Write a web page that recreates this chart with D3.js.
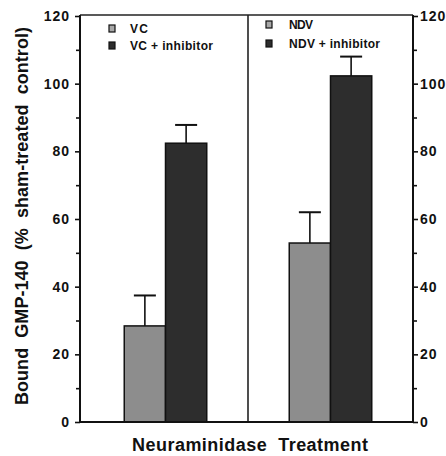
<!DOCTYPE html>
<html>
<head>
<meta charset="utf-8">
<script src="https://cdn.jsdelivr.net/npm/d3@7/dist/d3.min.js"></script>
<style>
  html, body { margin: 0; padding: 0; background: #fff; }
  svg { display: block; }
  text { font-family: "Liberation Sans", Arial, Helvetica, sans-serif; font-weight: bold; fill: #111; white-space: pre; }
</style>
</head>
<body>
<svg id="chart" width="446" height="456"></svg>
<script>
// ---- data ----
const groups = ["VC", "NDV"];
const treatments = ["control", "inhibitor"];
const legendLabels = [["VC", "VC + inhibitor"], ["NDV", "NDV + inhibitor"]];
const means = [[28.4, 82.4], [52.9, 102.3]];
const errors = [[9.0, 5.4], [9.1, 5.7]];
const majorTicks = [0, 20, 40, 60, 80, 100, 120];
const minorTicks = [10, 30, 50, 70, 90, 110];
const yTitle = "Bound  GMP-140  (%  sham-treated  control)";
const xTitle = "Neuraminidase  Treatment";

const colors = { control: "#8d8d8d", inhibitor: "#2d2d2d" };

const svg = d3.select("#chart");
const leftX = 80, rightX = 413, topY = 16, bottomY = 422;

const y = d3.scaleLinear().domain([0, 120]).range([bottomY, topY]);
const x = d3.scaleBand().domain(groups).range([83, rightX]).paddingInner(0).paddingOuter(0);
const xi = d3.scaleBand().domain(treatments).range([0, x.bandwidth()]).paddingInner(0).paddingOuter(1.0);

// bars
groups.forEach((g, gi) => {
  const gEl = svg.append("g").attr("transform", `translate(${x(g)},0)`);
  treatments.forEach((t, ti) => {
    const v = means[gi][ti], e = errors[gi][ti];
    const cx = xi(t) + xi.bandwidth() / 2;
    gEl.append("line").attr("x1", cx).attr("x2", cx).attr("y1", y(v)).attr("y2", y(v + e))
      .attr("stroke", "#111").attr("stroke-width", 1.6);
    gEl.append("line").attr("x1", cx - 11).attr("x2", cx + 11).attr("y1", y(v + e)).attr("y2", y(v + e))
      .attr("stroke", "#111").attr("stroke-width", 2);
    gEl.append("rect").attr("x", xi(t)).attr("width", xi.bandwidth())
      .attr("y", y(v)).attr("height", y(0) - y(v))
      .attr("fill", colors[t]).attr("stroke", "#111").attr("stroke-width", 1.5);
  });
});

// frame: top, divider, bottom
svg.append("line").attr("x1", leftX).attr("x2", rightX).attr("y1", topY - 1).attr("y2", topY - 1)
  .attr("stroke", "#222").attr("stroke-width", 1.6);
svg.append("line").attr("x1", x("NDV")).attr("x2", x("NDV")).attr("y1", topY - 1).attr("y2", bottomY)
  .attr("stroke", "#222").attr("stroke-width", 1.6);
svg.append("line").attr("x1", leftX).attr("x2", rightX).attr("y1", bottomY).attr("y2", bottomY)
  .attr("stroke", "#111").attr("stroke-width", 2);

// axes
function styleAxis(sel) {
  sel.select(".domain").remove();
  sel.selectAll("line").attr("stroke", "#111").attr("stroke-width", 1.6);
  sel.selectAll("text").style("font-size", "14px").style("font-weight", "bold")
    .style("letter-spacing", "1px").attr("fill", "#111")
    .style("font-family", '"Liberation Sans", Arial, sans-serif');
}
const leftAxis = svg.append("g").attr("transform", `translate(${leftX},0)`)
  .call(d3.axisLeft(y).tickValues(majorTicks).tickSize(5).tickPadding(5).tickFormat(d3.format("d")));
styleAxis(leftAxis);
svg.append("g").attr("transform", `translate(${leftX},0)`)
  .call(d3.axisLeft(y).tickValues(minorTicks).tickSize(4).tickFormat(""))
  .call(styleAxis);
svg.append("line").attr("x1", leftX).attr("x2", leftX).attr("y1", topY - 1).attr("y2", bottomY)
  .attr("stroke", "#111").attr("stroke-width", 2);

const rightAxis = svg.append("g").attr("transform", `translate(${rightX},0)`)
  .call(d3.axisRight(y).tickValues(majorTicks).tickSize(5).tickPadding(2).tickFormat(d3.format("d")));
styleAxis(rightAxis);
svg.append("g").attr("transform", `translate(${rightX},0)`)
  .call(d3.axisRight(y).tickValues(minorTicks).tickSize(4).tickFormat(""))
  .call(styleAxis);
svg.append("line").attr("x1", rightX).attr("x2", rightX).attr("y1", topY - 1).attr("y2", bottomY)
  .attr("stroke", "#111").attr("stroke-width", 2);

// legends
const legendPos = [{ sx: 109, tx: 130, rows: [33, 50], w: [18, 83] }, { sx: 266, tx: 289, rows: [29, 48], w: [24, 91] }];
legendLabels.forEach((labels, gi) => {
  const p = legendPos[gi];
  labels.forEach((lab, li) => {
    const by = p.rows[li];
    svg.append("rect").attr("x", p.sx).attr("y", by - 8).attr("width", 6).attr("height", 7)
      .attr("fill", li === 0 ? "#a8a8a8" : colors.inhibitor).attr("stroke", "#111").attr("stroke-width", 1.2);
    svg.append("text").attr("x", p.tx).attr("y", by).text(lab)
      .attr("textLength", p.w[li]).attr("lengthAdjust", "spacing")
      .style("font-size", "12px");
  });
});

// titles
svg.append("text").attr("x", 250).attr("y", 451).attr("text-anchor", "middle")
  .attr("textLength", 236).attr("lengthAdjust", "spacing")
  .style("font-size", "18px").text(xTitle);
svg.append("text").attr("transform", "translate(28,216) rotate(-90)").attr("text-anchor", "middle")
  .attr("textLength", 378).attr("lengthAdjust", "spacing")
  .style("font-size", "18px").text(yTitle);
</script>
</body>
</html>
